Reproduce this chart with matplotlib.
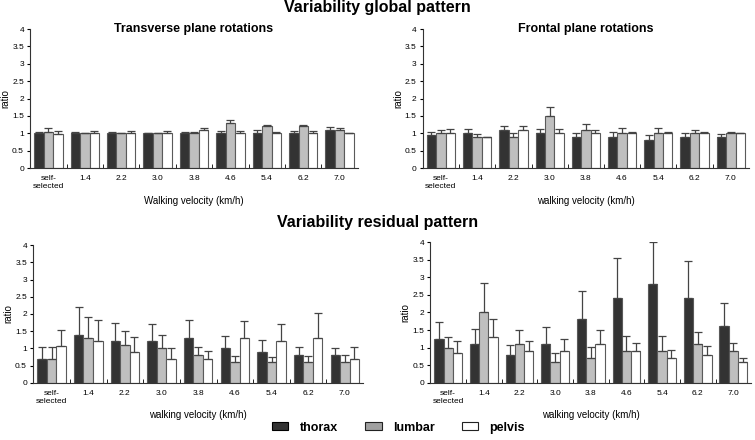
import numpy as np
import matplotlib
matplotlib.use("Agg")
import matplotlib.pyplot as plt
from matplotlib.patches import Patch

velocities = ["self-\nselected", "1.4", "2.2", "3.0", "3.8", "4.6", "5.4", "6.2", "7.0"]
segments = ["thorax", "lumbar", "pelvis"]

# global pattern, transverse plane
trans_thorax = [1.0, 1.0, 1.0, 1.0, 1.0, 1.0, 1.0, 1.0, 1.1]
trans_thorax_err = [0.05, 0.04, 0.04, 0.02, 0.04, 0.08, 0.1, 0.08, 0.08]
trans_lumbar = [1.05, 1.0, 1.0, 1.0, 1.0, 1.3, 1.2, 1.2, 1.1]
trans_lumbar_err = [0.1, 0.02, 0.02, 0.02, 0.03, 0.08, 0.03, 0.04, 0.04]
trans_pelvis = [0.98, 1.0, 1.0, 1.0, 1.1, 1.0, 1.0, 1.0, 1.0]
trans_pelvis_err = [0.08, 0.06, 0.06, 0.08, 0.06, 0.06, 0.04, 0.08, 0.01]

# global pattern, frontal plane
front_thorax = [0.95, 1.0, 1.1, 1.0, 0.9, 0.9, 0.8, 0.9, 0.9]
front_thorax_err = [0.1, 0.12, 0.1, 0.13, 0.12, 0.15, 0.15, 0.12, 0.07]
front_lumbar = [1.0, 0.9, 0.9, 1.5, 1.1, 1.0, 1.0, 1.0, 1.0]
front_lumbar_err = [0.1, 0.08, 0.12, 0.27, 0.18, 0.15, 0.15, 0.1, 0.05]
front_pelvis = [1.02, 0.9, 1.1, 1.0, 1.0, 1.0, 1.0, 1.0, 1.0]
front_pelvis_err = [0.1, 0.0, 0.1, 0.13, 0.1, 0.04, 0.04, 0.04, 0.02]

# residual pattern, transverse plane
res_t_thorax = [0.7, 1.4, 1.2, 1.2, 1.3, 1.0, 0.9, 0.8, 0.8]
res_t_thorax_err = [0.33, 0.8, 0.53, 0.5, 0.53, 0.37, 0.34, 0.25, 0.21]
res_t_lumbar = [0.7, 1.3, 1.1, 1.0, 0.8, 0.6, 0.6, 0.6, 0.6]
res_t_lumbar_err = [0.35, 0.62, 0.4, 0.39, 0.25, 0.17, 0.14, 0.17, 0.2]
res_t_pelvis = [1.07, 1.2, 0.9, 0.7, 0.7, 1.3, 1.2, 1.3, 0.7]
res_t_pelvis_err = [0.47, 0.63, 0.43, 0.3, 0.22, 0.49, 0.5, 0.72, 0.33]

# residual pattern, frontal plane
res_f_thorax = [1.25, 1.1, 0.8, 1.1, 1.8, 2.4, 2.8, 2.4, 1.6]
res_f_thorax_err = [0.49, 0.43, 0.27, 0.48, 0.8, 1.15, 1.2, 1.05, 0.68]
res_f_lumbar = [1.0, 2.0, 1.1, 0.6, 0.7, 0.9, 0.9, 1.1, 0.9]
res_f_lumbar_err = [0.3, 0.83, 0.4, 0.25, 0.32, 0.43, 0.43, 0.35, 0.24]
res_f_pelvis = [0.85, 1.3, 0.9, 0.9, 1.1, 0.9, 0.7, 0.8, 0.6]
res_f_pelvis_err = [0.33, 0.5, 0.28, 0.34, 0.4, 0.24, 0.22, 0.24, 0.1]

colors = ["#333333", "#bfbfbf", "#ffffff"]
edge = "#5a5a5a"

plt.rcParams["font.family"] = ["Liberation Sans", "DejaVu Sans"]

fig = plt.figure(figsize=(7.55, 4.4), dpi=100)


def draw_panel(rect, series, errors, xlabel, title=None):
    ax = fig.add_axes(rect)
    x = np.arange(len(velocities))
    w = 0.26
    for i in range(3):
        ax.bar(x + (i - 1) * w, series[i], w, color=colors[i], edgecolor=edge,
               linewidth=0.8, zorder=2)
        ax.errorbar(x + (i - 1) * w, series[i], yerr=[np.zeros(len(x)), errors[i]],
                    fmt="none", ecolor="#444444", elinewidth=0.9, capsize=3,
                    capthick=0.9, zorder=3)
    ax.set_xlim(-0.5, len(velocities) - 0.5)
    ax.set_ylim(0, 4)
    ax.set_yticks(np.arange(0, 4.01, 0.5))
    ax.set_yticklabels(["0", "0.5", "1", "1.5", "2", "2.5", "3", "3.5", "4"])
    ax.set_xticks(x)
    ax.set_xticklabels(velocities, fontsize=6)
    ax.set_xticks(np.arange(0.5, len(velocities) - 0.5, 1), minor=True)
    ax.tick_params(axis="x", which="major", length=0, pad=5)
    ax.tick_params(axis="x", which="minor", length=3, direction="in")
    ax.tick_params(axis="y", length=2.5, labelsize=6, pad=2)
    for s in ["top", "right"]:
        ax.spines[s].set_visible(False)
    ax.spines["left"].set_color("#333333")
    ax.spines["bottom"].set_color("#333333")
    ax.set_ylabel("ratio", fontsize=7, labelpad=1)
    ax.set_xlabel(xlabel, fontsize=7, labelpad=4)
    if title:
        ax.text(0.5, 1.0, title, transform=ax.transAxes, ha="center",
                va="center", fontsize=9, fontweight="bold")
    return ax


draw_panel([0.040, 0.618, 0.434, 0.316],
           [trans_thorax, trans_lumbar, trans_pelvis],
           [trans_thorax_err, trans_lumbar_err, trans_pelvis_err],
           "Walking velocity (km/h)", "Transverse plane rotations")
draw_panel([0.560, 0.618, 0.432, 0.316],
           [front_thorax, front_lumbar, front_pelvis],
           [front_thorax_err, front_lumbar_err, front_pelvis_err],
           "walking velocity (km/h)", "Frontal plane rotations")
draw_panel([0.044, 0.130, 0.437, 0.313],
           [res_t_thorax, res_t_lumbar, res_t_pelvis],
           [res_t_thorax_err, res_t_lumbar_err, res_t_pelvis_err],
           "walking velocity (km/h)")
draw_panel([0.570, 0.130, 0.425, 0.320],
           [res_f_thorax, res_f_lumbar, res_f_pelvis],
           [res_f_thorax_err, res_f_lumbar_err, res_f_pelvis_err],
           "walking velocity (km/h)")

fig.text(0.5, 0.982, "Variability global pattern", ha="center", va="center",
         fontsize=11.5, fontweight="bold")
fig.text(0.5, 0.495, "Variability residual pattern", ha="center", va="center",
         fontsize=11.5, fontweight="bold")

handles = [Patch(facecolor=colors[0], edgecolor="#000000", linewidth=0.8),
           Patch(facecolor="#a0a0a0", edgecolor="#222222", linewidth=0.8),
           Patch(facecolor=colors[2], edgecolor="#222222", linewidth=0.8)]
fig.legend(handles, segments, loc="center", bbox_to_anchor=(0.528, 0.028),
           ncol=3, frameon=False, prop={"size": 9, "weight": "bold"},
           handlelength=1.3, handleheight=0.6, handletextpad=0.9,
           columnspacing=2.2)

fig.savefig("out.png", dpi=100)
